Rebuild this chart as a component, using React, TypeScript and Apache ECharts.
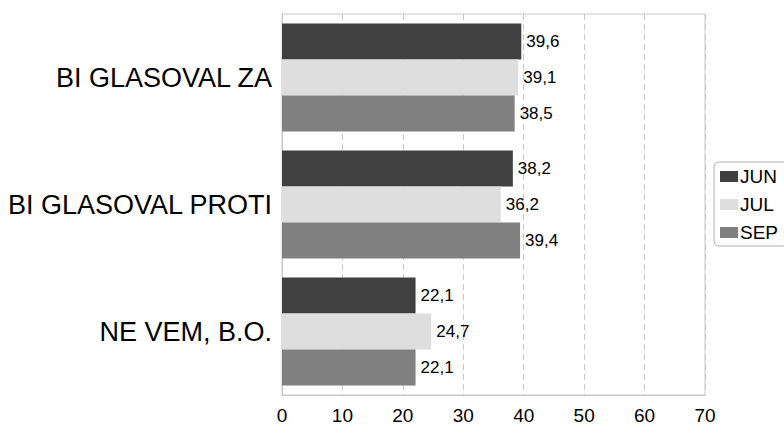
import React, { useEffect, useRef } from "react";
import * as echarts from "echarts";

const categories = ["BI GLASOVAL ZA", "BI GLASOVAL PROTI", "NE VEM, B.O."];
const seriesNames = ["JUN", "JUL", "SEP"];
const junValues = [39.6, 38.2, 22.1];
const julValues = [39.1, 36.2, 24.7];
const sepValues = [38.5, 39.4, 22.1];
const colors = ["#404040", "#dedede", "#808080"];
const xTicks = { min: 0, max: 70, interval: 10 };

export default function App() {
  const ref = useRef<HTMLDivElement>(null);
  useEffect(() => {
    if (!ref.current) return;
    const chart = echarts.init(ref.current, undefined, { renderer: "svg" });
    const font = "'Liberation Sans', Arial, sans-serif";
    const data = [junValues, julValues, sepValues];
    chart.setOption({
      animation: false,
      textStyle: { fontFamily: font },
      grid: {
        left: 282,
        top: 14,
        right: 79,
        bottom: 26,
        show: true,
        borderColor: "#c8c8c8",
        borderWidth: 1,
      },
      legend: {
        orient: "vertical",
        left: 714,
        top: 162,
        itemWidth: 18,
        itemHeight: 11,
        itemGap: 9,
        padding: [5, 10, 4, 6],
        borderColor: "#b0b0b0",
        borderWidth: 1,
        borderRadius: 5,
        icon: "rect",
        textStyle: { fontSize: 19, color: "#000", fontFamily: font, padding: [0, 0, 0, -3] },
        data: seriesNames,
      },
      xAxis: {
        type: "value",
        min: xTicks.min,
        max: xTicks.max,
        interval: xTicks.interval,
        axisLine: { show: true, lineStyle: { color: "#c8c8c8" } },
        axisTick: { show: false },
        axisLabel: { fontSize: 19, color: "#000", fontFamily: font, margin: 11 },
        splitLine: { show: true, lineStyle: { color: "#c8c8c8", type: [6, 4] } },
      },
      yAxis: {
        type: "category",
        inverse: true,
        data: categories,
        axisLine: { show: true, lineStyle: { color: "#c8c8c8" } },
        axisTick: { show: false },
        axisLabel: { fontSize: 27, color: "#000", fontFamily: font, margin: 10 },
      },
      series: seriesNames.map((name, i) => ({
        name,
        type: "bar",
        data: data[i],
        barGap: "0%",
        barCategoryGap: "15%",
        itemStyle: { color: colors[i] },
        label: {
          show: true,
          position: "right",
          distance: 5,
          fontSize: 17,
          color: "#000",
          fontFamily: font,
          formatter: (p: any) => String(p.value).replace(".", ","),
        },
      })),
    });
    return () => chart.dispose();
  }, []);
  return <div ref={ref} style={{ width: 784, height: 425, position: "absolute", left: 0, top: 0 }} />;
}
